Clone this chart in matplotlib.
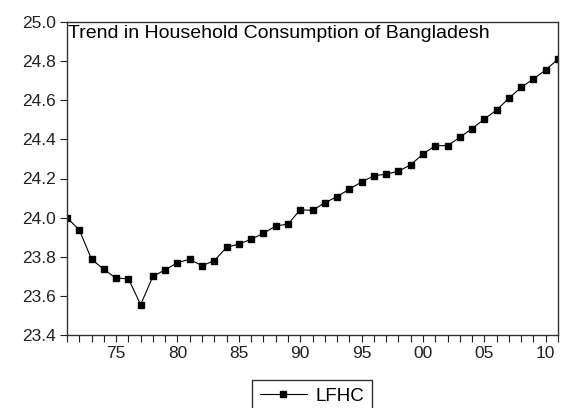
import matplotlib.pyplot as plt
import numpy as np

plt.rcParams['font.family'] = ['Liberation Sans', 'DejaVu Sans']

years = list(range(1971, 2012))
lfhc = [24.00, 23.937, 23.787, 23.736, 23.69, 23.688, 23.555, 23.70, 23.733, 23.77,
        23.787, 23.754, 23.78, 23.848, 23.865, 23.889, 23.92, 23.957, 23.967, 24.04,
        24.037, 24.076, 24.107, 24.146, 24.182, 24.214, 24.222, 24.237, 24.27, 24.325,
        24.368, 24.368, 24.41, 24.455, 24.504, 24.55, 24.61, 24.666, 24.709, 24.755,
        24.81]
xtick_years = [1975, 1980, 1985, 1990, 1995, 2000, 2005, 2010]
xtick_labels = ['75', '80', '85', '90', '95', '00', '05', '10']
yticks = [23.4, 23.6, 23.8, 24.0, 24.2, 24.4, 24.6, 24.8, 25.0]
title = 'Trend in Household Consumption of Bangladesh'

fig = plt.figure(figsize=(5.62, 4.08), dpi=100)
ax = fig.add_axes([67/562, 1-335/408, (558-67)/562, (335-22)/408])

line, = ax.plot(years, lfhc, color='black', lw=0.8, marker='s', markersize=4.8, label='LFHC')

ax.set_xlim(1971, 2011)
ax.set_ylim(23.4, 25.0)
ax.set_xticks(xtick_years)
ax.set_xticklabels(xtick_labels)
ax.set_xticks(years, minor=True)
ax.set_yticks(yticks)
ax.set_yticklabels(['%.1f' % v for v in yticks])
ax.tick_params(axis='both', which='major', labelsize=12.5, direction='out', length=5, width=0.8,
               colors='#222222', pad=3)
ax.tick_params(axis='x', which='minor', direction='out', length=5, width=0.8, colors='#222222')
for s in ax.spines.values():
    s.set_color('#333333')
    s.set_linewidth(1.0)

ax.text(0.003, 0.99, title, transform=ax.transAxes, ha='left', va='top', fontsize=14)

fig.legend(handles=[line], loc='upper center', bbox_to_anchor=(312/562, 1-380/408),
           fontsize=13.5, frameon=True, fancybox=False, edgecolor='black',
           handlelength=2.5, borderpad=0.4, handletextpad=0.45, borderaxespad=0)

fig.savefig('out.png', dpi=100)
